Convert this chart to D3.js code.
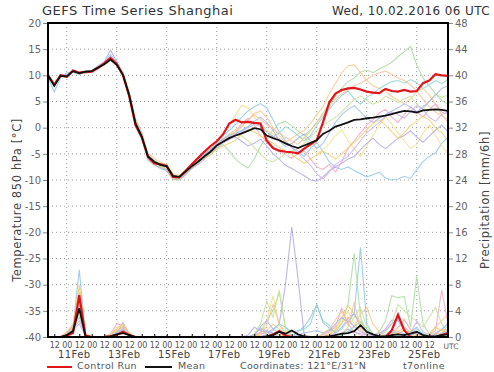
<!DOCTYPE html>
<html>
<head>
<meta charset="utf-8">
<script src="https://cdn.jsdelivr.net/npm/d3@7"></script>
<style>
  body { margin: 0; background: #fff; }
  text { font-family: "DejaVu Sans", sans-serif; }
</style>
</head>
<body>
<div id="chart"></div>
<script>
// run start and 6-hourly steps
const RUN_START = Date.UTC(2016, 1, 10, 6);
const STEP_HOURS = 6;

const tempTicks = [-40, -35, -30, -25, -20, -15, -10, -5, 0, 5, 10, 15, 20];
const precipTicks = [0, 4, 8, 12, 16, 20, 24, 28, 32, 36, 40, 44, 48];

// temperature 850 hPa, control run
const controlTemp = [
  10, 8.2, 10, 9.7, 10.9, 10.5, 10.6, 10.7, 11.4, 12.3, 13.3, 12.2, 10.0,
  6.0, 0.5, -1.8, -5.6, -6.8, -7.0, -7.3, -9.4, -9.5, -8.3, -7.0, -5.8, -4.6,
  -3.5, -2.6, -1.3, 0.8, 1.5, 1.0, 1.1, 0.9, 0.8, -2.5, -3.9, -4.4, -4.6,
  -4.7, -4.9, -4.0, -3.2, -2.4, 1.0, 4.8, 6.5, 7.2, 7.5, 7.6, 7.3, 6.9,
  6.7, 6.6, 7.4, 7.0, 6.9, 7.2, 6.9, 7.0, 8.5, 9.0, 10.2, 10.0, 9.9
];
// temperature 850 hPa, ensemble mean
const meanTemp = [
  10, 8, 9.9, 9.8, 10.8, 10.4, 10.7, 10.8, 11.5, 12.1, 13.0, 12.0, 10.1,
  6.2, 0.8, -1.7, -5.5, -6.5, -7.1, -7.4, -9.2, -9.4, -8.4, -7.4, -6.5, -5.5,
  -4.6, -3.4, -2.7, -2.0, -1.5, -1.1, -0.6, -0.1, -0.3, -1.5, -2.0, -2.4, -3.0,
  -3.5, -3.9, -3.4, -2.9, -2.4, -1.2, -0.6, 0.2, 0.6, 1.0, 1.5, 1.6, 1.8,
  1.9, 2.1, 2.3, 2.6, 2.9, 3.2, 3.1, 2.9, 3.3, 3.4, 3.5, 3.4, 3.2
];
// precipitation mm/6h
const controlPrecip = [
  0, 0, 0, 0.2, 0.6, 6.4, 0.2, 0, 0, 0, 0.1, 0.3, 0.8,
  0.3, 0, 0, 0, 0, 0, 0, 0, 0, 0, 0, 0, 0,
  0, 0, 0, 0, 0, 0, 0, 0, 0, 0, 0.4, 0.9, 0.2,
  0, 0, 0, 0, 0, 0, 0, 0, 0, 0, 0, 0, 0,
  0, 0, 0, 1.0, 3.4, 1.0, 0, 0, 0, 0, 0, 0.3, 0.6
];
const meanPrecip = [
  0, 0, 0, 0.3, 0.9, 4.4, 0.1, 0, 0, 0, 0.1, 0.4, 0.6,
  0.3, 0, 0, 0, 0, 0, 0, 0, 0, 0, 0, 0, 0,
  0, 0, 0, 0, 0, 0, 0, 0, 0, 0.1, 0.3, 0.8, 0.5,
  1.0, 0.4, 0.1, 0, 0, 0, 0.1, 0.3, 0.5, 0.6, 0.9, 1.8, 0.8,
  0.4, 0.1, 0.1, 0.3, 0.4, 0.3, 0.5, 0.8, 0.3, 0.1, 0.1, 0.3, 0.4
];

const memberColors = ["#93c5e6", "#a8dca0", "#f2e08a", "#f6c88a", "#b5a8e4", "#f2a9c5",
                      "#8ed3cf", "#c5e39a", "#efd06f", "#cbb3e8", "#a6b9e8", "#f7c2a0"];

const memberTemp = [
  [9.6, 6.8, 9.5, 10.5, 10.6, 10.2, 10.9, 10.9, 11.7, 12.5, 14.0, 12.4, 10.5,
   6.8, 1.5, -1.0, -5.0, -6.2, -7.5, -8.0, -9.6, -9.8, -8.6, -7.0, -5.8, -4.8,
   -3.9, -2.8, -1.5, -0.5, 0.6, 2.0, 3.2, 4.0, 4.6, 3.8, 1.5, -0.8, -2.5,
   -3.8, -4.5, -5.5, -4.0, -2.8, -4.6, -6.5, -7.6, -8.0, -7.5, -8.2, -8.8, -9.4,
   -9.0, -8.5, -9.6, -10.0, -9.8, -9.3, -9.7, -8.0, -6.5, -5.5, -4.8, -3.0, -1.8],
  [10.2, 8.5, 10.1, 9.6, 10.9, 10.6, 10.6, 10.7, 11.3, 12.0, 12.8, 11.8, 9.8,
   5.8, 0.2, -2.2, -6.2, -7.2, -7.6, -8.2, -10.0, -9.9, -8.8, -7.8, -6.4, -5.8,
   -5.2, -4.0, -3.2, -4.5, -6.0, -7.0, -7.7, -6.0, -3.5, -1.8, -0.5, 0.8, 1.2,
   0.4, -0.6, -1.5, -0.5, 1.0, 2.8, 4.5, 6.0, 7.5, 8.8, 9.5, 10.6, 11.0,
   10.5, 11.2, 11.8, 12.5, 13.6, 14.5, 15.5, 12.0, 9.5, 8.0, 6.5, 5.2, 4.5],
  [10.1, 8.3, 10.0, 10.0, 10.7, 10.3, 10.8, 10.9, 11.6, 12.2, 13.2, 12.3, 10.4,
   6.5, 1.2, -1.4, -5.2, -6.3, -6.8, -7.0, -8.8, -9.1, -8.0, -7.2, -6.0, -4.9,
   -3.8, -2.5, -1.0, 0.5, 2.4, 4.3, 3.8, 2.0, 0.8, -0.5, -1.2, -2.0, -3.2,
   -3.0, -2.2, -1.8, -3.5, -5.0, -4.2, -3.0, -1.5, -0.4, -2.5, -4.0, -5.5, -3.5,
   -1.5, 0.5, 2.0, 0.8, -1.0, -2.5, -4.0, -3.2, -1.0, 0.5, -1.5, -3.5, -5.0],
  [9.9, 8.1, 9.8, 9.7, 10.8, 10.5, 10.7, 10.8, 11.6, 12.3, 13.4, 12.5, 10.6,
   6.9, 1.8, -0.8, -4.8, -5.9, -6.6, -7.1, -9.0, -9.6, -8.9, -7.6, -6.8, -5.6,
   -4.4, -3.6, -2.4, -1.2, -0.4, 0.3, 1.5, 2.7, 3.2, 2.0, 0.0, -1.5, -2.8,
   -2.0, -1.2, -0.5, 0.8, 2.5, 4.0, 6.5, 8.5, 10.5, 11.8, 12.0, 10.5, 9.0,
   8.0, 7.5, 7.0, 6.0, 5.2, 4.6, 5.5, 6.8, 7.5, 6.2, 4.5, 2.5, 1.0],
  [10.0, 7.9, 10.2, 10.1, 11.0, 10.5, 10.6, 10.9, 11.8, 12.6, 14.8, 12.6, 10.2,
   6.0, 0.5, -2.0, -6.0, -7.0, -7.8, -8.2, -9.8, -10.0, -9.0, -7.8, -7.0, -6.0,
   -4.8, -3.8, -2.9, -2.2, -1.8, -2.6, -3.5, -3.0, -2.2, -3.5, -5.0, -6.0, -7.2,
   -7.8, -8.5, -9.2, -10.0, -10.2, -9.4, -8.2, -7.5, -6.8, -6.0, -5.5, -4.2, -3.0,
   -2.0, -3.2, -4.0, -3.0, -2.0, -1.5, -0.6, -1.8, -2.8, -1.6, -0.5, 0.5, -0.8],
  [10.1, 8.2, 9.8, 9.9, 10.7, 10.3, 10.8, 10.7, 11.4, 12.0, 12.9, 11.9, 10.0,
   6.1, 0.6, -1.9, -5.4, -6.6, -7.0, -7.2, -9.1, -9.3, -8.6, -7.5, -6.2, -5.0,
   -4.0, -3.0, -2.2, -1.5, -0.8, 0.8, 1.8, 0.5, -1.5, -2.8, -4.0, -4.6, -5.2,
   -5.8, -5.0, -4.5, -6.0, -7.5, -8.0, -7.0, -8.5, -6.5, -4.0, -2.5, -1.0, 0.5,
   1.5, 2.8, 3.5, 2.0, 1.0, 2.5, 4.0, 3.0, 2.0, 3.5, 4.5, 3.0, 2.5],
  [10.0, 8.0, 10.0, 9.9, 10.9, 10.4, 10.7, 10.8, 11.5, 12.1, 13.1, 12.0, 10.1,
   6.3, 0.9, -1.6, -5.6, -6.6, -7.2, -7.6, -9.4, -9.5, -8.2, -7.0, -5.9, -5.0,
   -4.2, -3.2, -2.0, -1.4, -1.0, -0.5, 0.2, 1.0, 0.4, -0.8, -1.8, -1.0, 0.2,
   -0.5, -1.5, -2.5, -1.5, 0.5, 2.0, 3.5, 5.0, 6.2, 7.0, 5.5, 4.5, 5.8,
   6.5, 7.5, 8.2, 8.8, 9.0, 8.5, 9.2, 8.6, 7.5, 8.2, 9.0, 8.4, 9.2],
  [10.0, 8.4, 9.9, 9.8, 10.8, 10.5, 10.6, 10.8, 11.5, 12.0, 13.0, 12.1, 10.2,
   6.4, 1.0, -1.5, -5.3, -6.4, -7.0, -7.3, -9.2, -9.3, -8.2, -7.2, -6.4, -5.3,
   -4.4, -3.3, -2.6, -1.8, -1.4, -1.6, -2.5, -3.8, -5.0, -6.2, -6.5, -5.8, -5.0,
   -4.5, -4.0, -3.0, -1.8, -0.5, 0.5, 1.2, 2.0, 3.0, 4.2, 5.5, 6.0, 5.2,
   4.5, 5.0, 6.0, 5.5, 4.8, 5.5, 6.0, 4.5, 3.5, 5.0, 6.5, 5.8, 6.2],
  [9.8, 8.6, 9.7, 9.9, 10.6, 10.4, 10.6, 10.8, 11.4, 12.0, 12.9, 11.9, 9.9,
   6.0, 0.3, -2.0, -5.8, -6.8, -7.4, -7.8, -9.8, -9.9, -8.6, -7.5, -6.6, -5.8,
   -5.0, -4.2, -3.5, -3.0, -2.4, -1.2, -0.4, -0.8, -1.6, -2.2, -3.0, -3.8, -4.4,
   -5.2, -6.0, -6.8, -6.0, -5.2, -4.5, -5.2, -6.0, -5.0, -3.8, -2.8, -1.6, -0.4,
   0.8, 1.5, 0.5, -0.8, -2.0, -1.0, 0.5, 1.2, 2.2, 1.5, 0.0, -1.0, -2.5],
  [10.0, 8.1, 10.0, 9.8, 10.8, 10.4, 10.7, 10.8, 11.6, 12.1, 13.0, 12.0, 10.1,
   6.2, 0.7, -1.8, -5.5, -6.5, -7.1, -7.5, -9.3, -9.5, -8.5, -7.4, -6.6, -5.6,
   -4.6, -3.5, -2.8, -2.2, -1.6, -0.9, 0.0, 0.6, 0.2, -0.8, -1.6, -2.2, -3.0,
   -3.8, -4.8, -6.0, -7.2, -8.8, -9.8, -8.5, -7.0, -6.2, -5.5, -4.0, -2.5, -1.0,
   0.0, 1.0, 2.2, 3.0, 2.5, 1.8, 3.0, 4.2, 3.5, 2.0, 1.2, 2.5, 3.0],
  [10.1, 8.0, 10.1, 9.7, 10.7, 10.3, 10.8, 10.8, 11.5, 12.3, 13.6, 12.2, 10.3,
   6.6, 1.2, -1.2, -5.2, -6.4, -7.2, -7.4, -9.4, -9.6, -8.4, -7.1, -6.2, -5.2,
   -4.3, -3.2, -2.4, -1.8, -1.2, -0.6, 0.2, 1.2, 2.0, 1.0, -0.5, -2.5, -3.6,
   -3.0, -2.0, -1.2, -2.5, -4.0, -3.0, -1.0, 1.0, 2.5, 3.5, 4.2, 3.0, 1.8,
   1.0, 1.8, 2.5, 3.2, 3.8, 4.5, 4.0, 3.0, 4.0, 5.0, 6.2, 7.5, 8.0],
  [9.9, 8.3, 9.9, 9.8, 10.9, 10.5, 10.7, 10.8, 11.5, 12.0, 12.9, 12.0, 10.0,
   6.0, 0.6, -1.7, -5.4, -6.4, -7.0, -7.3, -9.0, -9.2, -8.3, -7.3, -6.3, -5.4,
   -4.5, -3.4, -2.6, -1.9, -1.0, 0.2, 1.5, 2.5, 1.6, 0.5, -0.2, -1.0, -1.8,
   -2.5, -3.2, -2.0, -0.5, 1.0, 2.5, 4.0, 5.5, 6.5, 7.2, 8.0, 8.5, 9.2,
   10.0, 10.5, 10.8, 10.2, 9.5, 9.0, 8.2, 7.0, 5.5, 4.0, 3.0, 2.2, 1.5]
];

const memberPrecip = [
  [0, 0, 0, 0.5, 1.5, 10.3, 0.3, 0, 0, 0, 0.2, 0.8, 1.2,
   0.4, 0, 0, 0, 0, 0, 0, 0, 0, 0, 0, 0, 0,
   0, 0, 0, 0, 0, 0, 0, 0.4, 1.4, 1.0, 0.6, 0.3, 0.2,
   0.1, 0.8, 1.6, 3.0, 4.9, 2.2, 1.4, 0.6, 1.5, 2.8, 3.6, 13.7, 2.0,
   0.4, 0, 0.3, 1.2, 0.5, 0.2, 0.8, 1.5, 0.4, 0, 0.3, 0.6, 1.0],
  [0, 0, 0, 0.3, 1.0, 4.0, 0.2, 0, 0, 0, 0.1, 0.5, 0.9,
   0.2, 0, 0, 0, 0, 0, 0, 0, 0, 0, 0, 0, 0,
   0, 0, 0, 0, 0, 0, 0, 0, 0.6, 2.5, 4.0, 6.8, 1.5,
   0.3, 0, 0, 0, 0, 0.5, 1.2, 0.8, 2.0, 5.0, 12.8, 3.0, 0.5,
   0.2, 0.8, 2.5, 6.3, 6.0, 6.2, 1.5, 9.3, 2.0, 0.5, 0, 0.3, 0.5],
  [0, 0, 0, 0.8, 2.0, 7.5, 0.5, 0, 0, 0, 0.3, 1.5, 2.0,
   0.6, 0, 0, 0, 0, 0, 0, 0, 0, 0, 0, 0, 0,
   0, 0, 0, 0, 0, 0, 0, 0.2, 0.8, 2.5, 6.3, 1.8, 0.5,
   0.2, 0, 0, 0, 0, 0, 0.6, 1.5, 2.5, 4.0, 2.0, 1.0, 0.4,
   0, 0, 0, 0.5, 1.2, 2.8, 1.0, 0.3, 0, 0, 0.2, 0.8, 1.2],
  [0, 0, 0, 0.2, 0.8, 5.0, 0.2, 0, 0, 0, 0.2, 1.0, 1.6,
   0.4, 0, 0, 0, 0, 0, 0, 0, 0, 0, 0, 0, 0,
   0, 0, 0, 0, 0, 0, 0, 0, 0.3, 1.0, 2.0, 1.2, 0.4,
   0, 0, 0, 0, 0, 0, 0.4, 1.0, 2.2, 3.0, 1.5, 3.5, 4.5,
   2.0, 0.8, 0.2, 0, 0.5, 1.0, 0.4, 0, 0, 0.3, 1.5, 2.5, 3.5],
  [0, 0, 0, 0.6, 1.8, 3.0, 0.3, 0, 0, 0, 0.2, 0.6, 2.2,
   0.5, 0, 0, 0, 0, 0, 0, 0, 0, 0, 0, 0, 0,
   0, 0, 0, 0, 0, 0, 0.3, 1.5, 1.0, 0.6, 1.2, 2.0, 8.0,
   16.8, 9.0, 0.2, 0, 0, 0, 0, 0, 0.5, 1.2, 0.8, 0.5, 0.3,
   0.2, 0.5, 1.2, 2.6, 2.5, 1.0, 0.4, 0.8, 0.3, 0, 0.5, 1.2, 2.0],
  [0, 0, 0, 0.4, 1.2, 2.5, 0.2, 0, 0, 0, 0.5, 2.0, 1.8,
   0.4, 0, 0, 0, 0, 0, 0, 0, 0, 0, 0, 0, 0,
   0, 0, 0, 0, 0, 0, 0, 0.2, 0.6, 0.4, 0.2, 0, 0,
   0, 0, 0, 0, 0, 0.3, 0.8, 1.6, 4.4, 2.0, 0.8, 0.3, 0,
   0, 0, 0.2, 0.6, 1.5, 2.6, 1.2, 0.4, 0, 0.3, 1.0, 7.2, 2.0],
  [0, 0, 0, 0.3, 0.9, 6.0, 0.2, 0, 0, 0, 0.1, 0.4, 0.8,
   0.2, 0, 0, 0, 0, 0, 0, 0, 0, 0, 0, 0, 0,
   0, 0, 0, 0, 0, 0, 0, 0, 0, 0.3, 1.0, 2.0, 1.5,
   0.8, 1.0, 1.2, 2.0, 5.0, 2.5, 1.8, 0.5, 0.2, 0.8, 1.6, 2.4, 1.2,
   0.3, 0, 0, 0.2, 0.4, 0.3, 0.6, 1.2, 0.5, 0.2, 0, 0.4, 1.8],
  [0, 0, 0, 0.2, 0.6, 3.5, 0.1, 0, 0, 0, 0.2, 0.8, 1.0,
   0.3, 0, 0, 0, 0, 0, 0, 0, 0, 0, 0, 0, 0,
   0, 0, 0, 0, 0, 0, 0, 0.5, 2.0, 5.5, 3.0, 7.2, 1.0,
   0.2, 0, 0, 0, 0, 0, 0, 0, 0.5, 1.5, 3.0, 4.5, 1.5,
   0.5, 0.2, 0.8, 2.0, 5.0, 4.0, 3.0, 2.5, 1.5, 3.0, 4.5, 2.0, 0.8],
  [0, 0, 0, 0.5, 1.4, 8.0, 0.4, 0, 0, 0, 0.4, 1.2, 2.0,
   0.5, 0, 0, 0, 0, 0, 0, 0, 0, 0, 0, 0, 0,
   0, 0, 0, 0, 0, 0, 0, 0, 0, 0.2, 0.5, 0.3, 0.1,
   0, 0, 0, 0, 0, 0, 0.3, 1.2, 3.0, 4.8, 3.5, 2.2, 0.8,
   0.3, 0, 0, 0.6, 0.4, 1.2, 0.8, 0.2, 0, 0.5, 1.5, 1.0, 0.6],
  [0, 0, 0, 0.3, 1.0, 2.0, 0.1, 0, 0, 0, 0.1, 0.4, 1.4,
   0.3, 0, 0, 0, 0, 0, 0, 0, 0, 0, 0, 0, 0,
   0, 0, 0, 0, 0, 0, 0, 0.4, 1.2, 0.8, 0.3, 0.1, 0,
   0, 0, 0, 0, 0, 0, 0.2, 0.6, 1.2, 2.5, 1.6, 0.8, 0.4,
   0.2, 0.5, 1.0, 2.0, 2.8, 1.5, 0.6, 2.4, 0.8, 0.3, 0, 0.5, 0.8],
  [0, 0, 0, 0.4, 1.1, 5.5, 0.2, 0, 0, 0, 0.2, 0.6, 1.0,
   0.3, 0, 0, 0, 0, 0, 0, 0, 0, 0, 0, 0, 0,
   0, 0, 0, 0, 0, 0, 0, 0.2, 1.6, 2.5, 1.2, 0.6, 0.4,
   0.2, 0.3, 0.6, 0.8, 1.0, 0.6, 1.0, 2.0, 3.0, 2.2, 3.6, 1.5, 0.6,
   0.2, 0, 0.3, 0.6, 0.8, 0.5, 0.3, 0.6, 0.2, 0, 0.4, 1.2, 2.0],
  [0, 0, 0, 0.6, 1.6, 6.8, 0.3, 0, 0, 0, 0.3, 1.0, 1.5,
   0.4, 0, 0, 0, 0, 0, 0, 0, 0, 0, 0, 0, 0,
   0, 0, 0, 0, 0, 0, 0, 0, 0.5, 1.8, 5.0, 2.0, 0.6,
   0.2, 0, 0, 0, 0, 0.4, 1.2, 2.6, 4.0, 1.8, 5.2, 1.2, 0.3,
   0, 0, 0, 0.4, 0.8, 1.5, 0.6, 0.2, 0, 0.2, 0.6, 1.2, 1.0]
];

const WIDTH = 494, HEIGHT = 372;
const margin = {top: 23, right: 46, bottom: 35, left: 48};
const HOUR = 3600 * 1000;
const times = meanTemp.map((d, i) => new Date(RUN_START + i * STEP_HOURS * HOUR));
const END = new Date(RUN_START + 384 * HOUR);

const svg = d3.select("#chart").append("svg")
  .attr("width", WIDTH).attr("height", HEIGHT);

const x = d3.scaleUtc()
  .domain([new Date(RUN_START), END])
  .range([margin.left, WIDTH - margin.right]);
const yT = d3.scaleLinear().domain([-40, 20]).range([HEIGHT - margin.bottom, margin.top]);
const yP = d3.scaleLinear().domain([0, 48]).range([HEIGHT - margin.bottom, margin.top]);

const plotBottom = HEIGHT - margin.bottom;

// dotted grid
svg.append("g")
  .selectAll("line")
  .data(tempTicks.slice(1, -1))
  .join("line")
  .attr("x1", margin.left).attr("x2", WIDTH - margin.right)
  .attr("y1", d => yT(d)).attr("y2", d => yT(d))
  .attr("stroke", "#999").attr("stroke-width", 1).attr("stroke-dasharray", "1,3");

const gridDays = d3.range(11, 26, 2).map(d => new Date(Date.UTC(2016, 1, d)));
svg.append("g")
  .selectAll("line")
  .data(gridDays)
  .join("line")
  .attr("x1", d => x(d)).attr("x2", d => x(d))
  .attr("y1", margin.top).attr("y2", plotBottom)
  .attr("stroke", "#999").attr("stroke-width", 1).attr("stroke-dasharray", "1,3");

// lines
const lineT = d3.line().x((d, i) => x(times[i])).y(d => yT(d));
const lineP = d3.line().x((d, i) => x(times[i])).y(d => yP(d));

const plot = svg.append("g");
memberTemp.forEach((m, k) => {
  plot.append("path").attr("d", lineT(m))
    .attr("fill", "none").attr("stroke", memberColors[k])
    .attr("stroke-width", 1.1).attr("stroke-opacity", 0.85);
});
memberPrecip.forEach((m, k) => {
  plot.append("path").attr("d", lineP(m))
    .attr("fill", "none").attr("stroke", memberColors[k])
    .attr("stroke-width", 1.1).attr("stroke-opacity", 0.85);
});

[[controlTemp, lineT], [controlPrecip, lineP]].forEach(([d, l]) => {
  plot.append("path").attr("d", l(d))
    .attr("fill", "none").attr("stroke", "#e3141a").attr("stroke-width", 2.2);
});
[[meanTemp, lineT], [meanPrecip, lineP]].forEach(([d, l]) => {
  plot.append("path").attr("d", l(d))
    .attr("fill", "none").attr("stroke", "#111").attr("stroke-width", 1.8);
});

// frame
svg.append("rect")
  .attr("x", margin.left).attr("y", margin.top)
  .attr("width", WIDTH - margin.left - margin.right)
  .attr("height", plotBottom - margin.top)
  .attr("fill", "none").attr("stroke", "#000").attr("stroke-width", 2);

// left axis
const gl = svg.append("g")
  .attr("transform", `translate(${margin.left - 1},0)`)
  .call(d3.axisLeft(yT).tickValues(tempTicks).tickSize(4).tickPadding(2).tickFormat(d => d));
gl.select(".domain").remove();
gl.selectAll(".tick line").attr("stroke", "#888");
gl.selectAll("text").attr("fill", "#666").style("font-size", "10px").attr("font-family", "DejaVu Sans");

// right axis
const gr = svg.append("g")
  .attr("transform", `translate(${WIDTH - margin.right + 1},0)`)
  .call(d3.axisRight(yP).tickValues(precipTicks).tickSize(4).tickPadding(2));
gr.select(".domain").remove();
gr.selectAll(".tick line").attr("stroke", "#888");
gr.selectAll("text").attr("fill", "#666").style("font-size", "10px").attr("font-family", "DejaVu Sans");

// bottom hour axis (10 Feb 12 UTC .. 25 Feb 12 UTC)
const hourTicks = d3.range(1, 62, 2).map(i => times[i]);
const gb = svg.append("g")
  .attr("transform", `translate(0,${plotBottom})`)
  .call(d3.axisBottom(x).tickValues(hourTicks).tickSize(-3).tickPadding(5)
    .tickFormat(d3.utcFormat("%H")));
gb.select(".domain").remove();
gb.selectAll(".tick line").attr("stroke", "#000");
gb.selectAll("text").attr("fill", "#555").style("font-size", "8px").attr("font-family", "DejaVu Sans");

svg.append("text")
  .attr("x", 451).attr("y", plotBottom + 12)
  .attr("text-anchor", "middle").attr("fill", "#555").style("font-size", "7.5px")
  .text("UTC");

// date labels
const gd = svg.append("g")
  .attr("transform", `translate(7,${plotBottom + 14})`)
  .call(d3.axisBottom(x).tickValues(gridDays).tickSize(0).tickPadding(0)
    .tickFormat(d3.utcFormat("%d%b")));
gd.select(".domain").remove();
gd.selectAll("text").attr("fill", "#444").style("font-size", "10px")
  .attr("font-family", "DejaVu Sans").style("letter-spacing", "0.4px");

// axis titles
svg.append("text")
  .attr("transform", `translate(21,${(margin.top + plotBottom) / 2 + 20}) rotate(-90)`)
  .attr("text-anchor", "middle").attr("fill", "#444").style("font-size", "11.5px")
  .style("letter-spacing", "0.6px")
  .text("Temperature 850 hPa [°C]");
svg.append("text")
  .attr("transform", `translate(489,${(margin.top + plotBottom) / 2 + 20}) rotate(-90)`)
  .attr("text-anchor", "middle").attr("fill", "#444").style("font-size", "11.5px")
  .style("letter-spacing", "0.6px")
  .text("Precipitation [mm/6h]");

// title
svg.append("text")
  .attr("x", 42).attr("y", 15).attr("fill", "#333").style("font-size", "13px")
  .style("letter-spacing", "0.5px")
  .text("GEFS Time Series Shanghai");
svg.append("text")
  .attr("x", 490).attr("y", 15).attr("text-anchor", "end").attr("fill", "#333")
  .style("font-size", "12px").style("letter-spacing", "0.4px")
  .text("Wed, 10.02.2016 06 UTC");

// legend
const legend = svg.append("g");
legend.append("line").attr("x1", 47).attr("x2", 72).attr("y1", 367).attr("y2", 367)
  .attr("stroke", "#e3141a").attr("stroke-width", 2);
legend.append("text").attr("x", 77).attr("y", 369).attr("fill", "#555")
  .style("font-size", "9.5px").style("letter-spacing", "0.4px").text("Control Run");
legend.append("line").attr("x1", 145).attr("x2", 172).attr("y1", 367).attr("y2", 367)
  .attr("stroke", "#111").attr("stroke-width", 2);
legend.append("text").attr("x", 178).attr("y", 369).attr("fill", "#555")
  .style("font-size", "9.5px").style("letter-spacing", "0.4px").text("Mean");
legend.append("text").attr("x", 240).attr("y", 369).attr("fill", "#555")
  .style("font-size", "9.5px").style("letter-spacing", "0.3px").text("Coordinates: 121°E/31°N");
legend.append("text").attr("x", 403).attr("y", 369).attr("fill", "#555")
  .style("font-size", "9.5px").style("letter-spacing", "0.4px").text("t7online");
</script>
</body>
</html>
